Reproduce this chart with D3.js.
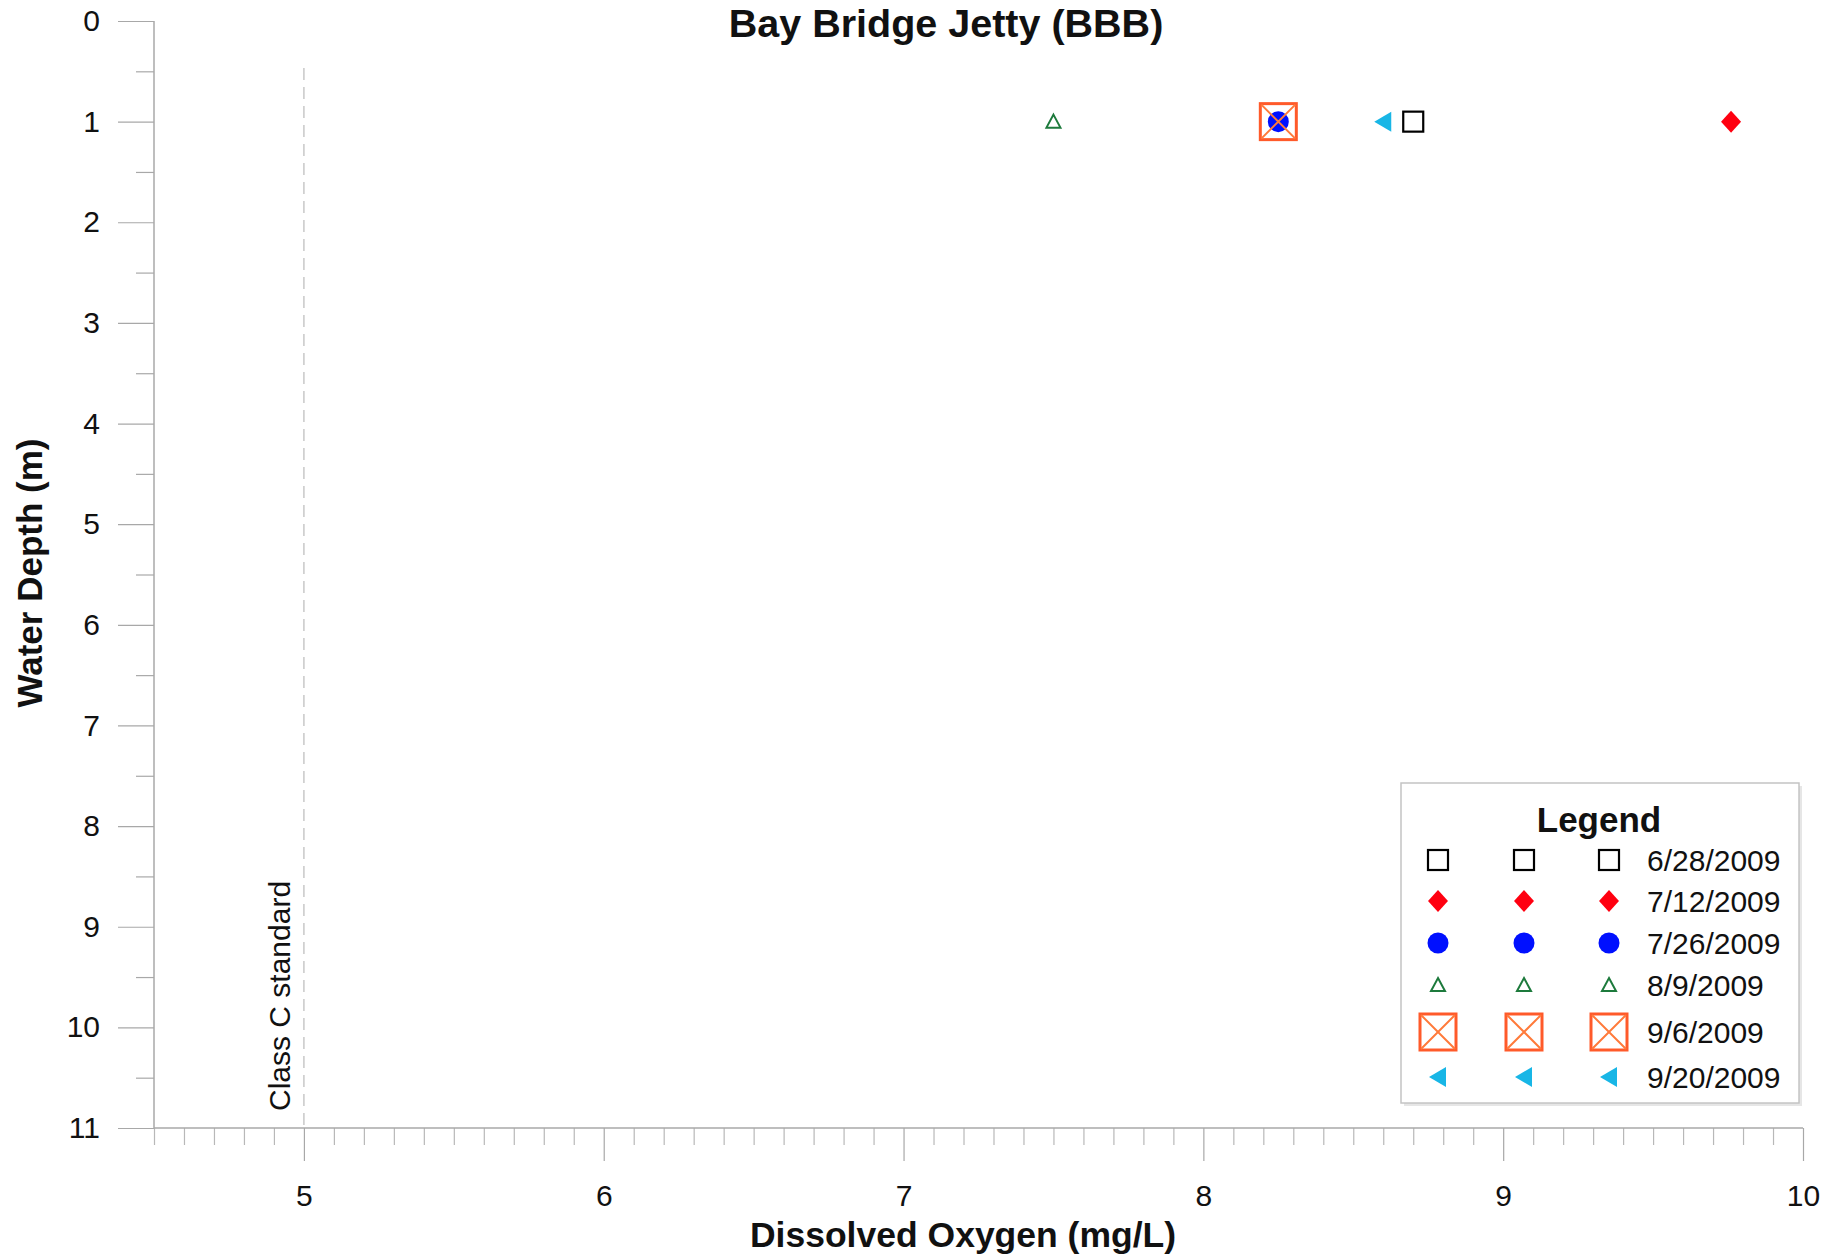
<!DOCTYPE html>
<html>
<head>
<meta charset="utf-8">
<script src="https://cdn.jsdelivr.net/npm/d3@7"></script>
<style>
  html, body { margin: 0; padding: 0; background: #fff; }
  svg { display: block; font-family: "Liberation Sans", Arial, sans-serif; }
</style>
</head>
<body>
<svg id="chart" width="1839" height="1256"></svg>
<script>
// ---- data ----
const dates = ["6/28/2009", "7/12/2009", "7/26/2009", "8/9/2009", "9/6/2009", "9/20/2009"];
const markerTypes = ["square", "diamond", "circle", "triangle", "xbox", "lefttri"];
const dissolvedOxygen = [8.7, 9.76, 8.25, 7.5, 8.25, 8.6];
const waterDepth = [1, 1, 1, 1, 1, 1];
const xTicks = [5, 6, 7, 8, 9, 10];
const yTicks = [0, 1, 2, 3, 4, 5, 6, 7, 8, 9, 10, 11];
const classCStandard = 5;

const svg = d3.select("#chart");
const x = d3.scaleLinear().domain([4.5, 10]).range([154, 1803]);
const y = d3.scaleLinear().domain([0, 11]).range([21, 1128]);
const axisColor = "#a8a8a8";

// ---- axes ----
const xMinor = d3.range(45, 101).map(d => d / 10).filter(d => Math.abs(d - Math.round(d)) > 1e-6);
svg.append("g").attr("transform", `translate(0,${y(11)})`)
  .call(d3.axisBottom(x).tickValues(xMinor).tickSize(17).tickFormat(""))
  .call(g => g.select(".domain").remove())
  .call(g => g.selectAll("line").attr("stroke", "#b8b8b8").attr("stroke-width", 1.2));
svg.append("g").attr("transform", `translate(0,${y(11)})`)
  .call(d3.axisBottom(x).tickValues(xTicks).tickSize(33).tickPadding(24).tickFormat(d3.format("d")))
  .call(g => g.select(".domain").attr("stroke", axisColor).attr("stroke-width", 1.5).attr("d", `M${x(4.5)},0H${x(10)}`))
  .call(g => g.selectAll("line").attr("stroke", axisColor).attr("stroke-width", 1.2))
  .call(g => g.selectAll("text").attr("fill", "#111").attr("font-size", 30).attr("font-family", "Liberation Sans, Arial, sans-serif"));

const yMinor = d3.range(0, 11).map(d => d + 0.5);
svg.append("g").attr("transform", `translate(${x(4.5)},0)`)
  .call(d3.axisLeft(y).tickValues(yMinor).tickSize(18).tickFormat(""))
  .call(g => g.select(".domain").remove())
  .call(g => g.selectAll("line").attr("stroke", axisColor).attr("stroke-width", 1.2));
svg.append("g").attr("transform", `translate(${x(4.5)},0)`)
  .call(d3.axisLeft(y).tickValues(yTicks).tickSize(36).tickPadding(18).tickFormat(d3.format("d")))
  .call(g => g.select(".domain").attr("stroke", axisColor).attr("stroke-width", 1.5).attr("d", `M0,${y(0)}V${y(11)}`))
  .call(g => g.selectAll("line").attr("stroke", axisColor).attr("stroke-width", 1.2))
  .call(g => g.selectAll("text").attr("fill", "#111").attr("font-size", 30).attr("font-family", "Liberation Sans, Arial, sans-serif"));

// ---- Class C standard line ----
svg.append("line")
  .attr("x1", x(classCStandard)).attr("x2", x(classCStandard))
  .attr("y1", 68).attr("y2", y(11))
  .attr("stroke", "#c8c8c8").attr("stroke-width", 1.5).attr("stroke-dasharray", "12,7");
svg.append("text")
  .attr("transform", `translate(${x(classCStandard) - 14},1111) rotate(-90)`)
  .attr("font-size", 30).attr("fill", "#111")
  .text("Class C standard");

// ---- titles ----
svg.append("text").attr("x", 946).attr("y", 37).attr("text-anchor", "middle")
  .attr("font-size", 39.5).attr("font-weight", "bold").attr("fill", "#111")
  .text("Bay Bridge Jetty (BBB)");
svg.append("text").attr("x", 963).attr("y", 1247).attr("text-anchor", "middle")
  .attr("font-size", 35.5).attr("font-weight", "bold").attr("fill", "#111")
  .text("Dissolved Oxygen (mg/L)");
svg.append("text").attr("transform", "translate(42,573) rotate(-90)").attr("text-anchor", "middle")
  .attr("font-size", 35).attr("font-weight", "bold").attr("fill", "#111")
  .text("Water Depth (m)");

// ---- markers ----
function drawMarker(g, type, cx, cy) {
  const m = g.append("g").attr("transform", `translate(${cx},${cy})`);
  if (type === "square") {
    m.append("rect").attr("x", -10).attr("y", -10).attr("width", 20).attr("height", 20)
      .attr("fill", "none").attr("stroke", "#000").attr("stroke-width", 2.2);
  } else if (type === "diamond") {
    m.append("path").attr("d", "M0,-11L10,0L0,11L-10,0Z").attr("fill", "#ff0010");
  } else if (type === "circle") {
    m.append("circle").attr("r", 10.5).attr("fill", "#0010ff");
  } else if (type === "triangle") {
    m.append("path").attr("d", "M0,-7L7,6H-7Z").attr("fill", "none")
      .attr("stroke", "#1d7a3c").attr("stroke-width", 2);
  } else if (type === "xbox") {
    m.append("rect").attr("x", -18).attr("y", -18).attr("width", 36).attr("height", 36)
      .attr("fill", "none").attr("stroke", "#ff5a2a").attr("stroke-width", 3);
    m.append("path").attr("d", "M-17,-17L17,17M17,-17L-17,17").attr("stroke", "#ff7a3a").attr("stroke-width", 2);
  } else if (type === "lefttri") {
    m.append("path").attr("d", "M-9,0L8,-10V10Z").attr("fill", "#18b6e6");
  }
}

const pts = svg.append("g");
dates.forEach((d, i) => drawMarker(pts, markerTypes[i], x(dissolvedOxygen[i]), y(waterDepth[i])));

// ---- legend ----
const lg = svg.append("g");
lg.append("rect").attr("x", 1404).attr("y", 786).attr("width", 398).attr("height", 320).attr("fill", "#e6e6e6");
lg.append("rect").attr("x", 1401).attr("y", 783).attr("width", 398).attr("height", 320)
  .attr("fill", "#fff").attr("stroke", "#c4c4c4").attr("stroke-width", 1.5);
lg.append("text").attr("x", 1599).attr("y", 832).attr("text-anchor", "middle")
  .attr("font-size", 35).attr("font-weight", "bold").attr("fill", "#111").text("Legend");
const rowY = [860, 901, 943, 985, 1032, 1077];
const colX = [1438, 1524, 1609];
dates.forEach((d, i) => {
  colX.forEach(cx => drawMarker(lg, markerTypes[i], cx, rowY[i]));
  lg.append("text").attr("x", 1647).attr("y", rowY[i] + 11).attr("font-size", 30).attr("fill", "#111").text(d);
});
</script>
</body>
</html>
